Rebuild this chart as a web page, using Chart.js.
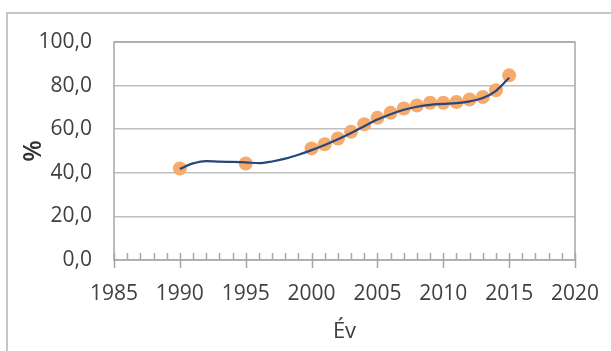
<!DOCTYPE html>
<html>
<head>
<meta charset="utf-8">
<script src="https://cdn.jsdelivr.net/npm/chart.js@4"></script>
<style>
  html, body { margin: 0; padding: 0; background: #fff; }
  #wrap { position: relative; width: 611px; height: 351px; }
</style>
</head>
<body>
<div id="wrap"><canvas id="chart" width="611" height="351"></canvas></div>
<script>
// measured points (orange markers)
var years = [1990, 1995, 2000, 2001, 2002, 2003, 2004, 2005, 2006, 2007, 2008, 2009, 2010, 2011, 2012, 2013, 2014, 2015];
var shares = [42.0, 44.3, 51.2, 53.1, 55.7, 58.8, 62.3, 65.2, 67.5, 69.5, 70.9, 72.1, 72.1, 72.5, 73.6, 74.8, 77.9, 84.7];

// smoothed trend curve (dark blue line)
var trendYears = [1990, 1991, 1992, 1993, 1994, 1995, 1996, 1997, 1998, 1999, 2000, 2001, 2002, 2003, 2004, 2005, 2006, 2007, 2008, 2009, 2010, 2011, 2012, 2013, 2014, 2015];
var trendValues = [41.8, 44.3, 45.4, 45.1, 45.0, 44.8, 44.4, 45.2, 46.5, 48.3, 50.4, 52.8, 55.4, 58.3, 61.4, 64.4, 66.9, 68.9, 70.3, 71.2, 71.6, 72.0, 72.8, 74.3, 77.6, 83.6];

var yTicks = [0, 20, 40, 60, 80, 100];
var xTicks = [1985, 1990, 1995, 2000, 2005, 2010, 2015, 2020];

var textColor = '#404040';
var gridColor = '#bfbfbf';

function toXY(xs, ys) {
    var out = [];
    for (var i = 0; i < xs.length; i++) out.push({x: xs[i], y: ys[i]});
    return out;
}

// outer frame, plot border and x axis tick marks
var decorPlugin = {
    id: 'decor',
    beforeDraw: function(chart) {
        var ctx = chart.ctx;
        ctx.save();
        ctx.strokeStyle = '#c6c6c6';
        ctx.lineWidth = 2;
        ctx.beginPath();
        ctx.moveTo(7, 351);
        ctx.lineTo(7, 13);
        ctx.lineTo(611, 13);
        ctx.stroke();
        ctx.restore();
    },
    afterDatasetsDraw: function(chart) {
        var ctx = chart.ctx;
        var a = chart.chartArea;
        var xs = chart.scales.x;
        ctx.save();
        ctx.strokeStyle = '#a6a6a6';
        ctx.lineWidth = 1.5;
        ctx.strokeRect(a.left, a.top, a.right - a.left, a.bottom - a.top);
        ctx.beginPath();
        for (var yr = 1985; yr <= 2020; yr++) {
            var px = Math.round(xs.getPixelForValue(yr)) + 0.5;
            ctx.moveTo(px, a.bottom - 7);
            ctx.lineTo(px, (yr % 5 === 0) ? a.bottom + 8 : a.bottom);
        }
        ctx.stroke();
        ctx.restore();
    }
};

var ctx = document.getElementById('chart').getContext('2d');
var chartobj = new Chart(ctx, {
    type: 'scatter',
    data: {
        datasets: [
            {
                type: 'line',
                data: toXY(trendYears, trendValues),
                borderColor: '#28467a',
                borderWidth: 2.2,
                pointRadius: 0,
                tension: 0.4,
                cubicInterpolationMode: 'monotone',
                fill: false,
                order: 0
            },
            {
                data: toXY(years, shares),
                backgroundColor: '#f6ab6c',
                borderColor: '#f6ab6c',
                borderWidth: 0,
                pointRadius: 7,
                order: 1
            }
        ]
    },
    options: {
        responsive: false,
        animation: false,
        layout: { padding: { left: 0, top: 42, right: 36, bottom: 0 } },
        plugins: {
            legend: { display: false },
            tooltip: { enabled: false }
        },
        scales: {
            x: {
                type: 'linear',
                min: 1985,
                max: 2020,
                afterBuildTicks: function(scale) {
                    scale.ticks = xTicks.map(function(v) { return {value: v}; });
                },
                afterFit: function(scale) {
                    scale.height = 91;
                    scale.paddingLeft = 0;
                    scale.paddingRight = 0;
                },
                grid: { display: false, drawTicks: false },
                border: { display: false },
                ticks: {
                    color: textColor,
                    font: { family: 'Open Sans', size: 21 },
                    padding: 21,
                    maxRotation: 0,
                    callback: function(v) { return String(v); }
                },
                title: {
                    display: true,
                    text: 'Év',
                    color: textColor,
                    font: { family: 'Open Sans', size: 22 },
                    padding: { top: 0, bottom: 6 }
                }
            },
            y: {
                min: 0,
                max: 100,
                afterBuildTicks: function(scale) {
                    scale.ticks = yTicks.map(function(v) { return {value: v}; });
                },
                afterFit: function(scale) {
                    scale.width = 114;
                    scale.paddingTop = 0;
                    scale.paddingBottom = 0;
                },
                grid: { color: gridColor, lineWidth: 1.5, drawTicks: false },
                border: { display: false },
                ticks: {
                    color: textColor,
                    font: { family: 'Open Sans', size: 21 },
                    padding: 22,
                    callback: function(v) { return v.toFixed(1).replace('.', ','); }
                },
                title: {
                    display: true,
                    text: '%',
                    color: '#333333',
                    font: { family: 'Open Sans', size: 25, weight: '600' },
                    padding: { top: 19, bottom: 0 }
                }
            }
        }
    },
    plugins: [decorPlugin]
});
</script>
</body>
</html>
